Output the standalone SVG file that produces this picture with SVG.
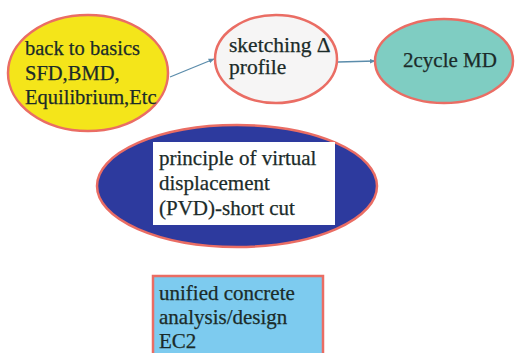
<svg xmlns="http://www.w3.org/2000/svg" width="515" height="353" viewBox="0 0 515 353">
  <style>
    text { font-family: 'Liberation Serif', 'DejaVu Serif', serif; font-size: 21px; fill: #1b2b29; stroke: #1b2b29; stroke-width: 0.25; }
    .small { font-size: 20.5px; }
    .big { font-size: 21.5px; }
    .edge { stroke: #5b8cab; stroke-width: 1.3; fill: none; marker-end: url(#arrow); }
    .outline { stroke: #ea6d64; stroke-width: 2.5; }
  </style>
  <defs>
    <marker id="arrow" viewBox="0 0 10 10" refX="9" refY="5" markerWidth="6" markerHeight="6" orient="auto" markerUnits="userSpaceOnUse">
      <path d="M0,1 L10,5 L0,9 z" fill="#5b8cab"/>
    </marker>
  </defs>
  <rect width="515" height="353" fill="#ffffff"/>

  <g id="connectors">
    <line class="edge" x1="170" y1="77" x2="214" y2="59"/>
    <line class="edge" x1="338" y1="62" x2="375" y2="61"/>
  </g>

  <g id="basics">
    <ellipse class="outline" cx="88" cy="73" rx="80" ry="58" fill="#f4e51a"/>
    <text class="small" x="25" y="55">back to basics</text>
    <text class="small" x="25" y="80">SFD,BMD,</text>
    <text class="small" x="25" y="104">Equilibrium,Etc</text>
  </g>

  <g id="sketching">
    <ellipse class="outline" cx="276" cy="59" rx="61" ry="44" fill="#f6f5f5"/>
    <text class="big" x="229" y="52">sketching Δ</text>
    <text class="big" x="229" y="74">profile</text>
  </g>

  <g id="twocycle">
    <ellipse class="outline" cx="444" cy="61" rx="69" ry="42" fill="#7fcdc2"/>
    <text x="403" y="67">2cycle MD</text>
  </g>

  <g id="pvd">
    <ellipse class="outline" cx="237" cy="186" rx="140" ry="61" fill="#2d3a9e"/>
    <rect x="153" y="142" width="182" height="83" fill="#ffffff"/>
    <text x="159" y="165">principle of virtual</text>
    <text x="159" y="190">displacement</text>
    <text x="159" y="215">(PVD)-short cut</text>
  </g>

  <g id="concrete">
    <rect class="outline" x="153" y="276" width="170" height="90" fill="#7dcbef"/>
    <text x="159" y="300">unified concrete</text>
    <text x="159" y="324">analysis/design</text>
    <text x="159" y="348">EC2</text>
  </g>
</svg>
